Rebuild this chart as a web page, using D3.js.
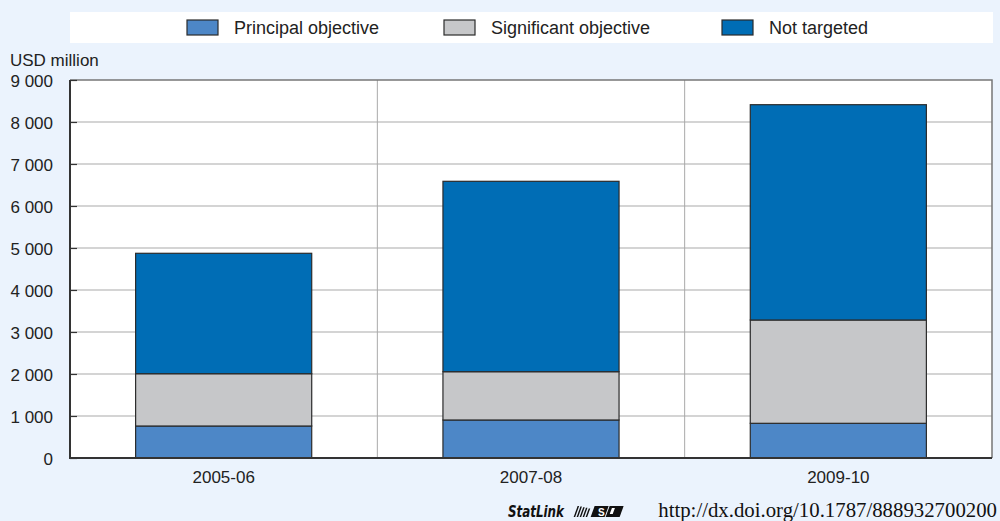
<!DOCTYPE html>
<html>
<head>
<meta charset="utf-8">
<script src="https://cdn.jsdelivr.net/npm/d3@7"></script>
<style>
    body { margin: 0; background: #EBF3FD; }
    svg { display: block; }
</style>
</head>
<body>
<div id="chart"></div>
<script>
// values, USD million
const periods = ["2005-06", "2007-08", "2009-10"];
const seriesNames = ["Principal objective", "Significant objective", "Not targeted"];
const principal = [762, 905, 826];
const significant = [1245, 1150, 2460];
const notTargeted = [2867, 4533, 5126];
const yTicks = [0, 1000, 2000, 3000, 4000, 5000, 6000, 7000, 8000, 9000];

const options = {
    width: 1000,
    height: 521,
    background: "#EBF3FD",
    colors: ["#4D87C7", "#C6C7C9", "#006DB5"],
    font: "'Liberation Sans Narrow', 'Arial Narrow', sans-serif",
    textColor: "#222"
};
const margin = { top: 80, right: 8, bottom: 63, left: 70 };

const table = periods.map((p, i) => ({
    period: p,
    "Principal objective": principal[i],
    "Significant objective": significant[i],
    "Not targeted": notTargeted[i]
}));
const stacked = d3.stack().keys(seriesNames)(table);

const svg = d3.select("#chart").append("svg")
    .attr("width", options.width)
    .attr("height", options.height)
    .style("font-family", options.font);

svg.append("rect")
    .attr("width", options.width)
    .attr("height", options.height)
    .attr("fill", options.background);

const x = d3.scaleBand()
    .domain(periods)
    .range([margin.left, options.width - margin.right])
    .paddingInner(0.427)
    .paddingOuter(0.2135);

const y = d3.scaleLinear()
    .domain([0, 9000])
    .range([options.height - margin.bottom, margin.top]);

const x0 = margin.left, x1 = options.width - margin.right;
const y0 = y(0), yTop = y(9000);

// plot area
svg.append("rect")
    .attr("x", x0).attr("y", yTop)
    .attr("width", x1 - x0).attr("height", y0 - yTop)
    .attr("fill", "#fff");

// horizontal gridlines
svg.append("g")
    .selectAll(null)
    .data(yTicks.slice(1, -1))
    .join("line")
    .attr("x1", x0).attr("x2", x1)
    .attr("y1", d => y(d)).attr("y2", d => y(d))
    .attr("stroke", "#A9A9A9")
    .attr("stroke-width", 1);

// band separators
const step = x.step();
svg.append("g")
    .selectAll(null)
    .data(periods.slice(1))
    .join("line")
    .attr("x1", d => x(d) - step * x.paddingInner() / 2)
    .attr("x2", d => x(d) - step * x.paddingInner() / 2)
    .attr("y1", yTop).attr("y2", y0)
    .attr("stroke", "#A9A9A9")
    .attr("stroke-width", 1);

// frame: top / right light, left / bottom dark
svg.append("path")
    .attr("d", `M${x0},${yTop}H${x1}V${y0}`)
    .attr("fill", "none")
    .attr("stroke", "#777")
    .attr("stroke-width", 1.5);

// bars
svg.append("g")
    .selectAll("g")
    .data(stacked)
    .join("g")
    .attr("fill", (d, i) => options.colors[i])
    .selectAll("rect")
    .data(d => d)
    .join("rect")
    .attr("x", d => x(d.data.period))
    .attr("width", x.bandwidth())
    .attr("y", d => y(d[1]))
    .attr("height", d => y(d[0]) - y(d[1]))
    .attr("stroke", "#2b2b2b")
    .attr("stroke-width", 1.2);

// y axis
const yAxis = svg.append("g")
    .attr("transform", `translate(${x0},0)`)
    .call(d3.axisLeft(y)
        .tickValues(yTicks)
        .tickSize(-7)
        .tickPadding(17)
        .tickFormat(d => d3.format(",")(d).replace(/,/g, " ")));
yAxis.select(".domain").remove();
yAxis.selectAll(".tick line").attr("stroke", "#333").attr("stroke-width", 1.2);
yAxis.selectAll("text")
    .attr("fill", options.textColor)
    .style("font-size", "17px")
    .attr("dy", "0.36em");

svg.append("line")
    .attr("x1", x0).attr("x2", x0)
    .attr("y1", yTop).attr("y2", y0)
    .attr("stroke", "#333").attr("stroke-width", 2);

// x axis
const xAxis = svg.append("g")
    .attr("transform", `translate(0,${y0})`)
    .call(d3.axisBottom(x).tickSize(0).tickPadding(13));
xAxis.select(".domain").remove();
xAxis.selectAll("text")
    .attr("fill", options.textColor)
    .style("font-size", "17px");

svg.append("line")
    .attr("x1", x0 - 1).attr("x2", x1)
    .attr("y1", y0).attr("y2", y0)
    .attr("stroke", "#333").attr("stroke-width", 2);

svg.append("text")
    .attr("x", 10).attr("y", 66)
    .attr("fill", options.textColor)
    .style("font-size", "17px")
    .text("USD million");

// legend
const legend = svg.append("g");
legend.append("rect")
    .attr("x", x0).attr("y", 12)
    .attr("width", x1 - x0 + 1).attr("height", 31)
    .attr("fill", "#fff");

const legendX = [187, 444, 722];
const items = legend.selectAll("g")
    .data(seriesNames)
    .join("g")
    .attr("transform", (d, i) => `translate(${legendX[i]},20)`);
items.append("rect")
    .attr("width", 31).attr("height", 15)
    .attr("fill", (d, i) => options.colors[i])
    .attr("stroke", "#2b2b2b")
    .attr("stroke-width", 1.2);
items.append("text")
    .attr("x", 47).attr("y", 14)
    .attr("fill", options.textColor)
    .style("font-size", "18px")
    .text(d => d);

// statlink footer
const foot = svg.append("g");
foot.append("text")
    .attr("x", 508).attr("y", 517)
    .style("font-family", "'DejaVu Sans', sans-serif")
    .style("font-size", "16.5px")
    .style("font-weight", "bold")
    .style("font-style", "italic")
    .attr("textLength", 56)
    .attr("lengthAdjust", "spacingAndGlyphs")
    .attr("fill", "#111")
    .text("StatLink");

const icon = foot.append("g").attr("transform", "translate(578,505)");
[0, 3, 6, 9, 12].forEach((dx, i) => {
    icon.append("rect")
        .attr("x", dx).attr("y", 1 + i * 0.6)
        .attr("width", 1.5).attr("height", 11 - i * 0.6)
        .attr("fill", "#111")
        .attr("transform", "skewX(-20)");
});
icon.append("rect").attr("x", 17).attr("y", 1).attr("width", 14).attr("height", 11)
    .attr("fill", "#111").attr("transform", "skewX(-20)");
icon.append("text").attr("x", 20).attr("y", 10.5)
    .style("font-size", "10px").style("font-weight", "bold")
    .attr("fill", "#fff").text("S");
icon.append("rect").attr("x", 32).attr("y", 1).attr("width", 14).attr("height", 11)
    .attr("fill", "#111").attr("transform", "skewX(-20)");
icon.append("rect").attr("x", 35).attr("y", 3).attr("width", 3).attr("height", 6)
    .attr("fill", "#fff").attr("transform", "skewX(-20)");

foot.append("text")
    .attr("x", 997).attr("y", 517)
    .attr("text-anchor", "end")
    .style("font-family", "'Liberation Serif', 'DejaVu Serif', serif")
    .style("font-size", "20.8px")
    .attr("fill", "#111")
    .text("http://dx.doi.org/10.1787/888932700200");
</script>
</body>
</html>
